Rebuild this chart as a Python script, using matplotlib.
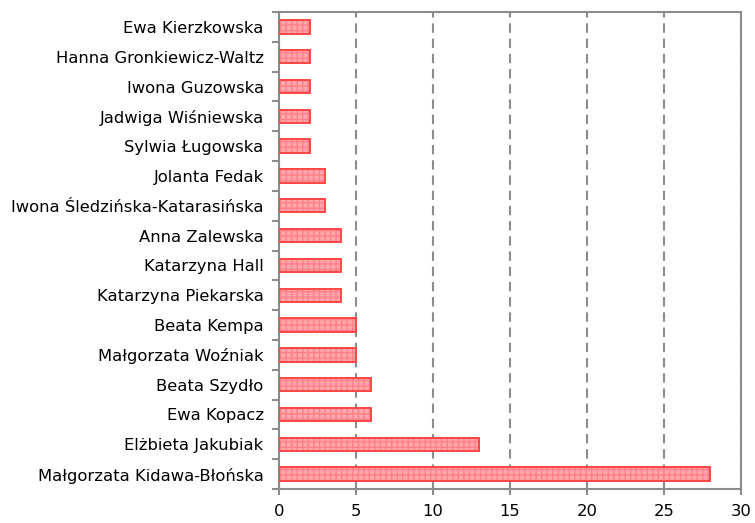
import matplotlib.pyplot as plt
import numpy as np

names = [
    "Ewa Kierzkowska",
    "Hanna Gronkiewicz-Waltz",
    "Iwona Guzowska",
    "Jadwiga Wiśniewska",
    "Sylwia Ługowska",
    "Jolanta Fedak",
    "Iwona Śledzińska-Katarasińska",
    "Anna Zalewska",
    "Katarzyna Hall",
    "Katarzyna Piekarska",
    "Beata Kempa",
    "Małgorzata Woźniak",
    "Beata Szydło",
    "Ewa Kopacz",
    "Elżbieta Jakubiak",
    "Małgorzata Kidawa-Błońska",
]
counts = [2, 2, 2, 2, 2, 3, 3, 4, 4, 4, 5, 5, 6, 6, 13, 28]

plt.rcParams["font.family"] = ["DejaVu Sans"]
plt.rcParams["hatch.linewidth"] = 1.0
fig = plt.figure(figsize=(7.55, 5.23), dpi=100)
ax = fig.add_axes([279 / 755, 34 / 523, 462 / 755, 477 / 523])

y = np.arange(len(names))
ax.barh(y, counts, height=0.45, color="#ffa6ab", edgecolor="#ff8088",
        hatch="+++", linewidth=0, zorder=3)
ax.barh(y, counts, height=0.45, fill=False, edgecolor="#ff4545",
        linewidth=1.4, zorder=4)

ax.set_xlim(0, 30)
ax.set_ylim(len(names) - 0.5, -0.5)
ax.set_xticks(range(0, 31, 5))
ax.set_yticks(y)
ax.set_yticklabels(names)
ax.set_yticks(np.arange(-0.5, len(names), 1), minor=True)

ax.grid(axis="x", color="#8c8c8c", linestyle=(0, (4.5, 2.8)), linewidth=1.5, zorder=0)

for s in ax.spines.values():
    s.set_color("#8c8c8c")
    s.set_linewidth(1.5)

ax.tick_params(axis="y", which="major", length=0, pad=11, labelsize=11.8)
ax.tick_params(axis="y", which="minor", length=5, width=1.5, color="#8c8c8c")
ax.tick_params(axis="x", direction="inout", length=9, width=1.5,
               color="#8c8c8c", labelsize=11.8, pad=6)

fig.savefig("out.png", dpi=100)
